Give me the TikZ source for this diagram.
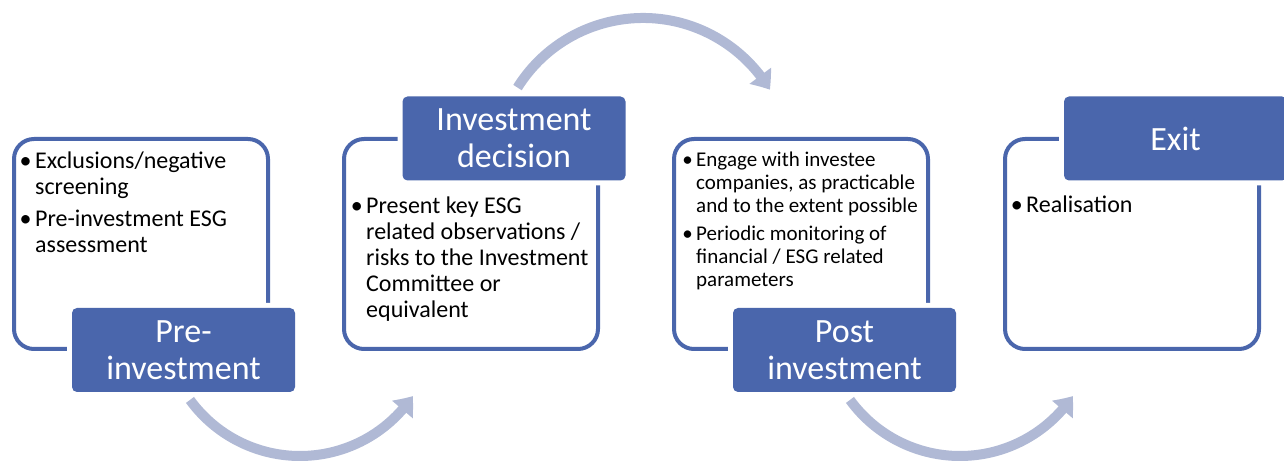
\documentclass[tikz,border=0pt]{standalone}
\usepackage{fontspec}
\setmainfont{Carlito}
\usetikzlibrary{arrows.meta,bending,calc}
\definecolor{accent}{HTML}{4A66AC}
\definecolor{arrowc}{HTML}{B0B9D5}
\newcommand{\bul}{\llap{•\hspace{3.5pt}}}
\newcommand{\topstrut}[1]{\rule{0pt}{#1}}
\tikzset{
 panel/.style={draw=accent, line width=4pt, rounded corners=20pt, fill=white, minimum width=254pt, minimum height=210pt, inner sep=0pt},
 stagelabel/.style={fill=accent, rounded corners=5pt, minimum width=223pt, minimum height=84pt, inner sep=0pt, text=white, align=center, font=\fontsize{34}{37}\selectfont, preaction={draw=white, line width=10pt}},
 body/.style={anchor=north west, inner sep=0pt, align=left, font=\fontsize{24}{26}\selectfont},
 smallbody/.style={anchor=north west, inner sep=0pt, align=left, font=\fontsize{21}{23}\selectfont},
 cyclearrow/.style={draw=arrowc, line width=10pt, -{Triangle[width=26pt,length=17pt,bend]}}
}
\begin{document}
\begin{tikzpicture}[x=1pt,y=1pt]
\useasboundingbox (0,0) rectangle (1284,462);
% panels
\node[panel] (p1) at (141,218) {};
\node[panel] (p2) at (471,218) {};
\node[panel] (p3) at (801,218) {};
\node[panel] (p4) at (1132,218) {};
% stage labels
\node[stagelabel] (l1) at (183.5,112) {Pre-\\investment};
\node[stagelabel] (l2) at (514,323.5) {Investment\\decision};
\node[stagelabel] (l3) at (844.5,112) {Post\\investment};
\node[stagelabel] (l4) at (1175.5,323.5) {Exit};
% texts
\node[body] (t1) at (35,314) {\topstrut{20pt}\bul Exclusions/negative\\screening\\[6pt]\bul Pre-investment ESG\\assessment};
\node[body] (t2) at (366,269) {\topstrut{20pt}\bul Present key ESG\\related observations /\\risks to the Investment\\Committee or\\equivalent};
\node[smallbody] (t3) at (696,314) {\topstrut{18pt}\bul Engage with investee\\companies, as practicable\\and to the extent possible\\[5pt]\bul Periodic monitoring of\\financial / ESG related\\parameters};
\node[body] (t4) at (1026,270) {\topstrut{20pt}\bul Realisation};
% arrows
\coordinate (c1) at (300,142);
\coordinate (c2) at (643,296);
\coordinate (c3) at (960,142);
\coordinate (s1) at ($(c1)+(216:136)$);
\coordinate (s2) at ($(c2)+(148:148)$);
\coordinate (s3) at ($(c3)+(216:136)$);
\draw[cyclearrow] (s1) arc[start angle=216, end angle=326, radius=136pt];
\draw[cyclearrow] (s2) arc[start angle=148, end angle=31, radius=148pt];
\draw[cyclearrow] (s3) arc[start angle=216, end angle=326, radius=136pt];
\end{tikzpicture}
\end{document}
